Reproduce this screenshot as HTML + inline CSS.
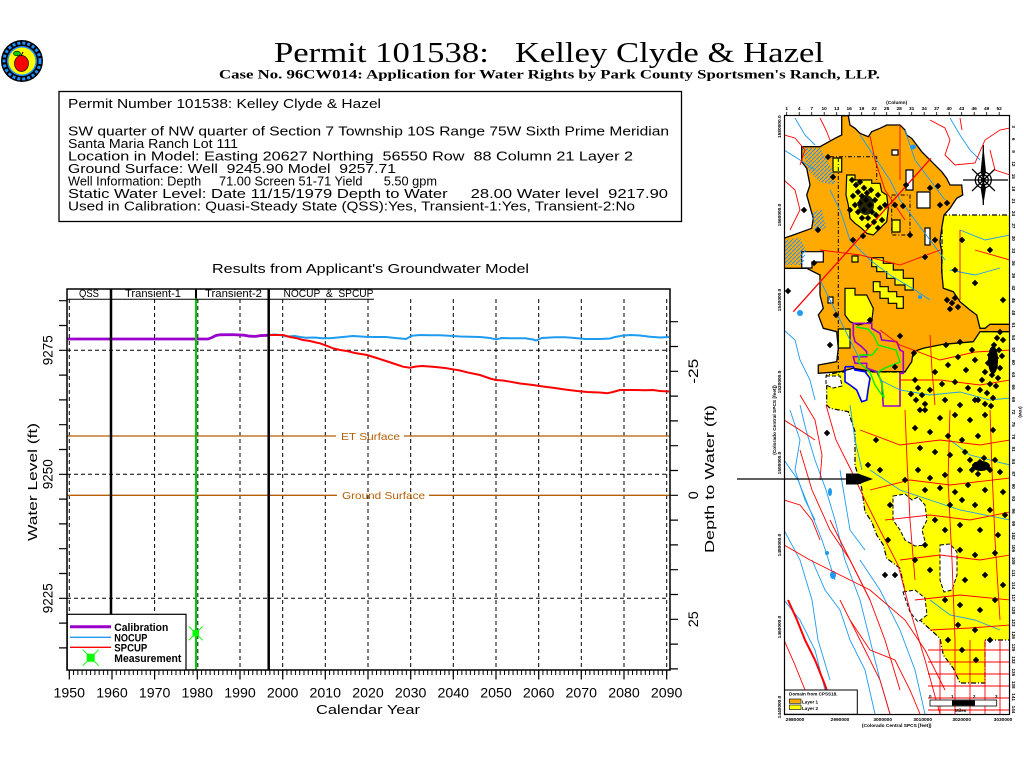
<!DOCTYPE html>
<html><head><meta charset="utf-8"><style>
html,body{margin:0;padding:0;background:#fff;}
svg{display:block;}
text{font-family:"Liberation Sans",sans-serif;white-space:pre;}
.serif{font-family:"Liberation Serif",serif;}
</style></head><body>
<svg width="1024" height="768" viewBox="0 0 1024 768" xmlns="http://www.w3.org/2000/svg" xml:space="preserve">
<defs>
<pattern id="minor" x="68.8" y="0" width="4.2667" height="10" patternUnits="userSpaceOnUse"><rect x="0" y="0" width="1" height="10" fill="#000"/></pattern>
<pattern id="hatch" x="0" y="0" width="4" height="4" patternUnits="userSpaceOnUse"><path d="M0 4L4 0" stroke="#1e90ff" stroke-width="1"/></pattern>
<clipPath id="mapclip"><rect x="784.5" y="115.5" width="225" height="599"/></clipPath>
</defs>
<rect width="1024" height="768" fill="#fff"/>

<!-- logo -->
<circle cx="22" cy="61" r="21" fill="#000"/>
<circle cx="22" cy="61" r="18" fill="none" stroke="#1e90ff" stroke-width="3" stroke-dasharray="3,2"/>
<circle cx="22" cy="61" r="15" fill="#1e90ff"/>
<circle cx="22" cy="61" r="13.5" fill="#ffff00"/>
<ellipse cx="21.5" cy="63.5" rx="7" ry="8" fill="#ff0000" stroke="#000" stroke-width="0.7"/>
<ellipse cx="17" cy="53.5" rx="3.5" ry="2.3" fill="#00cc00" stroke="#000" stroke-width="0.6"/>
<path d="M21 56L23 52" stroke="#000" stroke-width="1"/>

<!-- titles -->
<text class="serif" x="274" y="62" font-size="28" textLength="550" lengthAdjust="spacingAndGlyphs">Permit 101538:   Kelley Clyde &amp; Hazel</text>
<text class="serif" x="219" y="78.5" font-size="13" font-weight="bold" textLength="661" lengthAdjust="spacingAndGlyphs">Case No. 96CW014: Application for Water Rights by Park County Sportsmen's Ranch, LLP.</text>

<!-- info box -->
<rect x="59" y="91.5" width="622.5" height="130" fill="none" stroke="#000" stroke-width="1.3"/>
<g font-size="12.5">
<text x="68" y="108" textLength="313" lengthAdjust="spacingAndGlyphs">Permit Number 101538: Kelley Clyde &amp; Hazel</text>
<text x="68" y="135.5" textLength="601" lengthAdjust="spacingAndGlyphs">SW quarter of NW quarter of Section 7 Township 10S Range 75W Sixth Prime Meridian</text>
<text x="68" y="148" textLength="170" lengthAdjust="spacingAndGlyphs">Santa Maria Ranch Lot 111</text>
<text x="68" y="160.5" textLength="565" lengthAdjust="spacingAndGlyphs">Location in Model: Easting 20627 Northing  56550 Row  88 Column 21 Layer 2</text>
<text x="68" y="173" textLength="328" lengthAdjust="spacingAndGlyphs">Ground Surface: Well  9245.90 Model  9257.71</text>
<text x="68" y="185.5" textLength="369" lengthAdjust="spacingAndGlyphs">Well Information: Depth     71.00 Screen 51-71 Yield      5.50 gpm</text>
<text x="68" y="198" textLength="600" lengthAdjust="spacingAndGlyphs">Static Water Level: Date 11/15/1979 Depth to Water     28.00 Water level  9217.90</text>
<text x="68" y="210.5" textLength="567" lengthAdjust="spacingAndGlyphs">Used in Calibration: Quasi-Steady State (QSS):Yes, Transient-1:Yes, Transient-2:No</text>
</g>

<!-- chart title -->
<text x="212" y="273" font-size="12.5" textLength="317" lengthAdjust="spacingAndGlyphs">Results from Applicant's Groundwater Model</text>

<!-- grid -->
<g stroke="#000" stroke-width="1" stroke-dasharray="4,3" fill="none">
<path d="M69.3 299V670M154.6 299V670M197.8 299V670M240 299V670M282.7 299V670M325.3 299V670M368 299V670M410.7 299V670M453.3 299V670M496 299V670M538.7 299V670M581.3 299V670M624 299V670M666.7 299V670"/>
<path d="M67 350.3H670M67 474.3H670M67 598.3H670"/>
</g>

<!-- ET / ground surface -->
<g stroke="#b45f06" stroke-width="1.3">
<path d="M67 436H336M404 436H670"/>
<path d="M67 495.3H337M429 495.3H670"/>
</g>
<text x="341" y="440" font-size="10.5" fill="#b45f06" textLength="59" lengthAdjust="spacingAndGlyphs">ET Surface</text>
<text x="342" y="499" font-size="10.5" fill="#b45f06" textLength="83" lengthAdjust="spacingAndGlyphs">Ground Surface</text>

<!-- series -->
<polyline fill="none" stroke="#9900cc" stroke-width="2.8" points="67,339 208,339 212,337.5 216,335.5 220,334.8 232,334.6 244,335.2 250,336.2 256,336.4 260,335.6 268,335.3"/>
<polyline fill="none" stroke="#1e9bef" stroke-width="2" points="268,335 275,334.5 283,335.5 287,336.5 295,336 300,337 306,337.7 315,337.5 322,338.3 330,338.3 340,337.3 353,336 365,336.7 375,337 386,337 395,338 406,339 412,335.7 420,335 430,335.3 440,335.3 453,336 460,336.5 470,336.7 480,337 490,338 496,339.3 502,338 510,338.3 525,338.3 533,339.5 536,340.5 542,338 555,337.3 565,337.3 575,338 585,339 600,339 610,338.5 615,337 622,335.7 630,335 640,335.5 650,336.7 660,337.5 669,337"/>
<polyline fill="none" stroke="#ff0000" stroke-width="2" points="268,335 283,335 290,337 297,338.3 303,340 310,341 316,342.5 320,343.3 326,345.5 333,348.3 340,350 347,351 355,353 367,355 375,357.5 386,361 395,364 403,366.7 410,367.7 416,366.5 422,366 433,366.7 445,368 453,369.3 460,370.5 467,372.3 480,375 490,378.5 496,380 503,380.5 510,381.7 520,383.5 533,385 543,386.5 553,387.7 565,389.5 577,391 587,392 593,392.3 600,392.5 607,393.3 613,392 620,390 633,390 645,390.3 653,390 660,391 669,391.5"/>

<!-- period lines -->
<path d="M111 289V670M268.7 289V670" stroke="#000" stroke-width="2.5"/>
<path d="M196 298V670" stroke="#00cc00" stroke-width="2"/>
<path d="M196 289V298" stroke="#000" stroke-width="2"/>

<!-- measurement -->
<g stroke="#00ff00" stroke-width="1"><path d="M188.7 626.3L202.7 640.3M202.7 626.3L188.7 640.3"/></g>
<rect x="192.5" y="630" width="6.5" height="6.5" fill="#00ff00"/>

<!-- frame -->
<rect x="67" y="289" width="603" height="381" fill="none" stroke="#000" stroke-width="1.5"/>
<path d="M67 299.3H374" stroke="#000" stroke-width="1"/>
<g font-size="11">
<text x="79" y="297" textLength="20" lengthAdjust="spacingAndGlyphs">QSS</text>
<text x="125" y="297" textLength="56" lengthAdjust="spacingAndGlyphs">Transient-1</text>
<text x="205" y="297" textLength="57" lengthAdjust="spacingAndGlyphs">Transient-2</text>
<text x="283.5" y="297" textLength="90" lengthAdjust="spacingAndGlyphs">NOCUP  &amp;  SPCUP</text>
</g>

<!-- ticks -->
<path d="M59 300.7H67M59 325.5H67M59 350.3H67M59 375.1H67M59 399.9H67M59 424.7H67M59 449.5H67M59 474.3H67M59 499.1H67M59 523.9H67M59 548.7H67M59 573.5H67M59 598.3H67M59 623.1H67M59 647.9H67" stroke="#000" stroke-width="1.2"/>
<path d="M670 321.7H678M670 346.5H678M670 371.3H678M670 396.1H678M670 420.9H678M670 445.7H678M670 470.5H678M670 495.3H678M670 520.1H678M670 544.9H678M670 569.7H678M670 594.5H678M670 619.3H678M670 644.1H678M670 668.9H678" stroke="#000" stroke-width="1.2"/>
<rect x="68.8" y="670" width="599" height="5" fill="url(#minor)"/>
<path d="M69.3 670V679.5M112 670V679.5M154.6 670V679.5M197.3 670V679.5M240 670V679.5M282.7 670V679.5M325.3 670V679.5M368 670V679.5M410.7 670V679.5M453.3 670V679.5M496 670V679.5M538.7 670V679.5M581.3 670V679.5M624 670V679.5M666.7 670V679.5" stroke="#000" stroke-width="1.2"/>

<!-- x labels -->
<g font-size="14" text-anchor="middle">
<text x="69.3" y="697.5" textLength="31.5" lengthAdjust="spacingAndGlyphs">1950</text>
<text x="112" y="697.5" textLength="31.5" lengthAdjust="spacingAndGlyphs">1960</text>
<text x="154.6" y="697.5" textLength="31.5" lengthAdjust="spacingAndGlyphs">1970</text>
<text x="197.3" y="697.5" textLength="31.5" lengthAdjust="spacingAndGlyphs">1980</text>
<text x="240" y="697.5" textLength="31.5" lengthAdjust="spacingAndGlyphs">1990</text>
<text x="282.7" y="697.5" textLength="31.5" lengthAdjust="spacingAndGlyphs">2000</text>
<text x="325.3" y="697.5" textLength="31.5" lengthAdjust="spacingAndGlyphs">2010</text>
<text x="368" y="697.5" textLength="31.5" lengthAdjust="spacingAndGlyphs">2020</text>
<text x="410.7" y="697.5" textLength="31.5" lengthAdjust="spacingAndGlyphs">2030</text>
<text x="453.3" y="697.5" textLength="31.5" lengthAdjust="spacingAndGlyphs">2040</text>
<text x="496" y="697.5" textLength="31.5" lengthAdjust="spacingAndGlyphs">2050</text>
<text x="538.7" y="697.5" textLength="31.5" lengthAdjust="spacingAndGlyphs">2060</text>
<text x="581.3" y="697.5" textLength="31.5" lengthAdjust="spacingAndGlyphs">2070</text>
<text x="624" y="697.5" textLength="31.5" lengthAdjust="spacingAndGlyphs">2080</text>
<text x="666.7" y="697.5" textLength="31.5" lengthAdjust="spacingAndGlyphs">2090</text>
<text x="368" y="714" font-size="13" textLength="104" lengthAdjust="spacingAndGlyphs">Calendar Year</text>
</g>

<!-- y labels -->
<g font-size="14" text-anchor="middle">
<text transform="translate(52.5,350.3) rotate(-90)" textLength="30" lengthAdjust="spacingAndGlyphs">9275</text>
<text transform="translate(52.5,474.3) rotate(-90)" textLength="30" lengthAdjust="spacingAndGlyphs">9250</text>
<text transform="translate(52.5,598.3) rotate(-90)" textLength="30" lengthAdjust="spacingAndGlyphs">9225</text>
<text transform="translate(37,482) rotate(-90)" font-size="13" textLength="118" lengthAdjust="spacingAndGlyphs">Water Level (ft)</text>
<text transform="translate(698,371.3) rotate(-90)" textLength="25" lengthAdjust="spacingAndGlyphs">-25</text>
<text transform="translate(698,495.3) rotate(-90)" textLength="8" lengthAdjust="spacingAndGlyphs">0</text>
<text transform="translate(698,619.3) rotate(-90)" textLength="16" lengthAdjust="spacingAndGlyphs">25</text>
<text transform="translate(714,479) rotate(-90)" font-size="13" textLength="148" lengthAdjust="spacingAndGlyphs">Depth to Water (ft)</text>
</g>

<!-- legend -->
<rect x="67.3" y="614.3" width="118.7" height="55.7" fill="#fff" stroke="#000" stroke-width="1.2"/>
<path d="M70 626.7H111" stroke="#9900cc" stroke-width="3"/>
<path d="M70 637.3H111" stroke="#1e9bef" stroke-width="1.3"/>
<path d="M70 647.3H111" stroke="#ff0000" stroke-width="1.3"/>
<g stroke="#00ff00" stroke-width="1"><path d="M82.7 649.7L98.7 665.7M98.7 649.7L82.7 665.7"/></g>
<rect x="86.7" y="653.7" width="8" height="8" fill="#00ff00"/>
<g font-size="11" font-weight="bold">
<text x="114.3" y="631" textLength="54" lengthAdjust="spacingAndGlyphs">Calibration</text>
<text x="114.3" y="641.5" textLength="33" lengthAdjust="spacingAndGlyphs">NOCUP</text>
<text x="114.3" y="651.5" textLength="33" lengthAdjust="spacingAndGlyphs">SPCUP</text>
<text x="114.3" y="662" textLength="67" lengthAdjust="spacingAndGlyphs">Measurement</text>
</g>

<!-- ================= MAP ================= -->
<g clip-path="url(#mapclip)">
<rect x="784.5" y="115.5" width="225" height="599" fill="#fff"/>
<!-- yellow -->
<polygon fill="#ffff00" stroke="#000" stroke-width="1.2" stroke-dasharray="5,2,1,2" points="942,215 1010,215 1010,640 985,640 985,683 960,683 953.3,668.3 943.3,655 940,638.3 921.7,621.7 911.7,611.7 910,598.3 905,591.7 900,568.3 886.7,558.3 883.3,545 876.7,535 871.7,521.7 865,511.7 861.7,488.3 855,465 855,431.7 848.3,411.7 830,408.3 826.7,405 826.7,375 840,372 905,372 942,300"/>
<!-- white holes in yellow -->
<g fill="#fff" stroke="#000" stroke-width="1" stroke-dasharray="4,2">
<polygon points="893,496 905,494 912,500 918,497 925,505 927,520 922,530 926,545 915,546 905,540 900,530 893,520"/>
<polygon points="940,545 950,544 957,552 957,575 952,590 944,592 940,580"/>
<polygon points="903,592 915,590 925,598 927,615 918,622 910,612"/>
<polygon points="845,366.7 853.3,366.7 855,370 865,371.7 870,378.3 868.3,388.3 866.7,400 861.7,401.7 856.7,390 850,385 845,381.7"/>
<polygon points="826,376 840,376 842,386 833,388 826,385"/>
</g>
<!-- orange -->
<polygon fill="#ffaa00" stroke="#000" stroke-width="1.3" points="841.7,115.7 848.3,115.7 850,125 855,128.3 860,133.3 868.3,136.7 871.7,131.7 880,128.3 886.7,125 900,125 905,130 906.7,135 911.7,138.3 916.7,145 921.7,151.7 926.7,156.7 931.7,161.7 936.7,166.7 941.7,171.7 946.7,178.3 950,185 961.7,185 962.7,195 956.7,198.3 950,208.3 944,215 941.7,228.3 940,241.7 941.7,251.7 941.7,271.7 943.3,288.3 953.3,291.7 960,301.7 970,310 976.7,315 980,328.3 985,328.3 990,324.3 1010,324.3 1010,331.7 980,331.7 973.3,341.7 943.3,344.3 923.3,348.3 913.3,351.7 911.7,361.7 905,371.7 896.7,371.7 873.3,371.7 853.3,368.3 840,371.7 818.3,373.3 818.3,365 836.7,361.7 838.3,348.3 836.7,331.7 823.3,328.3 818.3,315 823.3,308.3 820,295 820,275 806.7,268.3 784,268.3 784,238.3 793.3,235 811.7,228.3 813.3,218.3 806.7,195 810,185 806.7,168.3 801.7,161.7 801.7,146.7 820,146.7 835,138.3 841.7,135"/>
<!-- yellow inside orange -->
<g fill="#ffff00" stroke="#000" stroke-width="1.2">
<polygon points="846.7,175 855,175 855,180 871.7,180 871.7,183.3 880,183.3 881.7,191.7 886.7,195 888.3,208.3 886.7,221.7 880,228.3 873.3,235 866.7,233.3 861.7,228.3 855,223.3 850,218.3 848.3,205 846,195"/>
<polygon points="871.7,257.7 883.3,257.7 883.3,263.3 893.3,263.3 893.3,270 903.3,270 903.3,278.3 913.3,278.3 913.3,290 905,290 905,285 895,285 895,278.3 886.7,278.3 886.7,271.7 876.7,271.7 876.7,266.7 871.7,266.7"/>
<polygon points="873.3,281.7 880,281.7 880,286.7 888.3,286.7 888.3,291.7 896.7,291.7 896.7,296.7 903.3,296.7 903.3,308.3 896.7,308.3 896.7,303.3 888.3,303.3 888.3,298.3 880,298.3 880,291.7 873.3,291.7"/>
<polygon points="845,288.3 855,288.3 855,295 866.7,295 873.3,308.3 871.7,321.7 858.3,325 850,321.7 845,315"/>
<polygon points="838.3,329 850,329 850,348 838.3,348"/>
<polygon points="833,158 841.7,158 841.7,172 833,172"/>
<polygon points="892,220 900,220 900,232 892,232"/>
<polygon points="852,256 858,256 858,262 852,262"/>
</g>
<!-- white holes in orange -->
<g fill="#fff" stroke="#000" stroke-width="1.2">
<polygon points="801.7,251.7 823.3,251.7 823.3,262 812,262 812,268 801.7,268"/>
<polygon points="906,170 913,170 913,190 906,190"/>
<polygon points="917,192 930,192 930,208 917,208"/>
<polygon points="925,228 930,228 930,245 925,245"/>
<polygon points="892,150 898,150 898,155 892,155"/>
<polygon points="828,297 833,297 833,303 828,303"/>
</g>
<!-- hatch areas -->
<g fill="url(#hatch)">
<polygon points="802,148 820,148 835,175 835,185 820,182 808,170"/>
<polygon points="784,240 800,238 806,250 803,265 784,265"/>
<polygon points="812,212 822,210 826,228 815,232"/>
</g>
<!-- dashed boundaries in orange -->
<g fill="none" stroke="#000" stroke-width="1" stroke-dasharray="4,2,1,2">
<path d="M838.3 158V375M830 156.7H876.7V180"/>
<rect x="891.7" y="195" width="18.3" height="40"/>
</g>
<!-- purple / green / blue outlines -->
<polygon fill="none" stroke="#9900cc" stroke-width="1.6" points="853.3,323.3 871.7,323.3 871.7,328.3 880,333.3 881.7,340 896.7,341.7 900,350 903.3,351.7 903.3,373.3 900,373.3 900,406 883.3,406 881.7,381.7 876.7,371.7 866.7,368.3 866.7,363.3 855,363.3 853.3,356.7 866.7,356.7 866.7,351.7 861.7,346.7 855,341.7 853.3,335"/>
<polyline fill="none" stroke="#00ee00" stroke-width="1.4" points="856,327 868,329 874,336 878,345 896,350 900,362 885,368 878,372 882,385 884,398 875,385 870,372 858,362 860,355 872,355 878,348"/>
<polyline fill="none" stroke="#0000ff" stroke-width="1.6" points="845,366.7 853.3,366.7 855,370 865,371.7 870,378.3 868.3,388.3 866.7,400 861.7,401.7 856.7,390 850,385 845,381.7 845,366.7"/>
<!-- compass -->
<g stroke="#000" fill="none" stroke-width="1.3">
<circle cx="983.3" cy="180" r="8"/>
<circle cx="983.3" cy="180" r="5"/>
<path d="M983.3 145V205M963 180H1008M972 169L995 191M995 169L972 191"/>
</g>
<polygon points="983.3,145 986,172 983.3,180 980.6,172" fill="#000"/>
<polygon points="983.3,205 986,188 983.3,180 980.6,188" fill="#000"/>
<circle cx="983.3" cy="180" r="2.5" fill="#000"/>
<!-- blue streams -->
<g fill="none" stroke="#1e9bef" stroke-width="0.9">
<polyline points="800,405 806,430 815,460 826,490 835,520 845,560 860,600 870,640 880,680 890,714"/>
<polyline points="784,460 798,480 810,510 822,540 835,580"/>
<polyline points="850,405 855,440 862,470"/>
<polyline points="784,530 800,560 812,600 818,640 830,680"/>
<polyline points="860,560 880,590 900,630 915,670 925,714"/>
<polyline points="870,470 900,490 930,500 960,510 1010,520"/>
<polyline points="950,440 970,455 1010,465"/>
<polyline points="860,135 870,150 880,165 890,180 900,200 915,220 930,240 945,260"/>
<polyline points="830,190 840,210 850,240 870,260 890,275 915,290 930,300"/>
<polyline points="820,280 830,300 840,320 850,340 860,360"/>
<polyline points="905,130 915,160 930,180 945,200"/>
<polyline points="784,150 800,160 815,170"/>
<polyline points="795,118 805,135 815,145"/>
<polyline points="950,118 960,135 970,150 980,160"/>
<polyline points="960,230 985,240 1010,235"/>
<polyline points="950,270 975,275 1000,268"/>
<polyline points="880,380 900,390 930,395 960,392 990,400 1010,398"/>
<polyline points="784,330 795,340 800,360 810,380 815,400"/>
<polyline points="930,600 950,615 975,620 1000,630"/>
<polyline points="790,410 800,440 795,470 805,500 815,520"/>
<polyline points="812,560 825,590 840,610 850,640 865,670 875,714"/>
<polyline points="784,600 800,620 815,650 825,690"/>
<polyline points="840,470 845,500 850,530 865,550"/>
</g>
<g fill="#1e9bef">
<ellipse cx="913" cy="147" rx="3" ry="2.5"/>
<ellipse cx="800" cy="313" rx="3" ry="3"/>
<ellipse cx="830" cy="492" rx="2" ry="4"/>
<ellipse cx="833" cy="575" rx="3" ry="4"/>
<ellipse cx="827" cy="553" rx="2" ry="2"/>
<ellipse cx="920" cy="297" rx="2" ry="2"/>
</g>
<!-- red roads -->
<g fill="none" stroke="#ff0000" stroke-width="0.9">
<polyline stroke-width="1.3" points="793.3,311.7 931,158.3"/>
<polyline points="826,405 836,440 851,470 865,500 880,530 898,565 910,610 925,660 940,714"/>
<polyline points="784,545 810,560 840,575 870,590 905,620 925,650 945,690"/>
<polyline stroke-width="2" points="788,600 797,620 805,640 815,660 825,685 835,714"/>
<polyline points="800,450 812,490 830,530 850,560 870,600 885,640 900,690"/>
<polyline points="860,430 900,445 940,440 980,445 1010,440"/>
<polyline points="870,490 910,480 950,485 1010,478"/>
<polyline points="885,520 930,515 970,520 1010,512"/>
<polyline points="900,560 940,555 980,560 1010,555"/>
<polyline points="915,600 960,595 1010,600"/>
<polyline points="930,630 970,628 1010,625"/>
<polyline points="905,410 907,460 910,520 915,580"/>
<polyline points="950,410 948,480 952,560 955,640"/>
<polyline points="990,410 992,470 995,540 1000,620"/>
<polyline points="880,330 900,345 940,360 975,352 1010,350"/>
<polyline points="900,380 940,380 980,385 1010,380"/>
<polyline points="930,335 932,370 935,405"/>
<polyline points="870,136 875,160 885,190 905,220"/>
<polyline points="820,250 860,255 900,265 940,250"/>
<polyline points="900,125 900,180"/>
<polyline points="784,135 795,138 805,150 800,165"/>
<polyline points="784,180 795,190 800,210 790,230"/>
<polyline points="820,118 826,130 830,140"/>
<polyline points="930,120 945,128 950,140 945,155 955,165 975,163 985,140 1000,130 1010,128"/>
<polyline points="960,118 962,130"/>
<polyline points="990,150 995,170 1010,175"/>
<polyline points="784,640 795,665 805,690"/>
<polyline points="840,600 860,640 880,680 890,714"/>
<polyline points="830,520 850,560 870,600"/>
<polyline points="784,420 800,430 815,440"/>
<polyline points="960,230 960,300"/>
<polyline points="975,250 1010,260"/>
<polyline points="800,395 815,420 822,455 820,480"/>
<polyline points="784,500 800,505 812,520 820,540"/>
<polyline points="850,620 870,650 895,660 910,690 920,714"/>
<path d="M928 650H1010M928 662H1010M928 674H1010M928 686H1010M928 698H1010M928 710H1010M940 640V714M955 640V714M970 640V714M985 640V714M1000 640V714"/>
</g>
<!-- wells -->
<path fill="#000" stroke="#000" stroke-width="1" d="M852 180m0-2.5l2.5 2.5-2.5 2.5-2.5-2.5zM856 185m0-2.5l2.5 2.5-2.5 2.5-2.5-2.5zM860 182m0-2.5l2.5 2.5-2.5 2.5-2.5-2.5zM864 188m0-2.5l2.5 2.5-2.5 2.5-2.5-2.5zM858 192m0-2.5l2.5 2.5-2.5 2.5-2.5-2.5zM853 196m0-2.5l2.5 2.5-2.5 2.5-2.5-2.5zM862 196m0-2.5l2.5 2.5-2.5 2.5-2.5-2.5zM867 193m0-2.5l2.5 2.5-2.5 2.5-2.5-2.5zM871 190m0-2.5l2.5 2.5-2.5 2.5-2.5-2.5zM866 200m0-2.5l2.5 2.5-2.5 2.5-2.5-2.5zM860 203m0-2.5l2.5 2.5-2.5 2.5-2.5-2.5zM855 205m0-2.5l2.5 2.5-2.5 2.5-2.5-2.5zM870 205m0-2.5l2.5 2.5-2.5 2.5-2.5-2.5zM875 200m0-2.5l2.5 2.5-2.5 2.5-2.5-2.5zM878 195m0-2.5l2.5 2.5-2.5 2.5-2.5-2.5zM864 210m0-2.5l2.5 2.5-2.5 2.5-2.5-2.5zM858 212m0-2.5l2.5 2.5-2.5 2.5-2.5-2.5zM872 212m0-2.5l2.5 2.5-2.5 2.5-2.5-2.5zM868 218m0-2.5l2.5 2.5-2.5 2.5-2.5-2.5zM876 215m0-2.5l2.5 2.5-2.5 2.5-2.5-2.5zM880 208m0-2.5l2.5 2.5-2.5 2.5-2.5-2.5zM862 218m0-2.5l2.5 2.5-2.5 2.5-2.5-2.5zM874 222m0-2.5l2.5 2.5-2.5 2.5-2.5-2.5zM882 220m0-2.5l2.5 2.5-2.5 2.5-2.5-2.5zM885 205m0-2.5l2.5 2.5-2.5 2.5-2.5-2.5zM850 210m0-2.5l2.5 2.5-2.5 2.5-2.5-2.5zM868 226m0-2.5l2.5 2.5-2.5 2.5-2.5-2.5zM878 228m0-2.5l2.5 2.5-2.5 2.5-2.5-2.5zM828 157m0-2.5l2.5 2.5-2.5 2.5-2.5-2.5zM833 177m0-2.5l2.5 2.5-2.5 2.5-2.5-2.5zM818 230m0-2.5l2.5 2.5-2.5 2.5-2.5-2.5zM804 210m0-2.5l2.5 2.5-2.5 2.5-2.5-2.5zM853 240m0-2.5l2.5 2.5-2.5 2.5-2.5-2.5zM863 236m0-2.5l2.5 2.5-2.5 2.5-2.5-2.5zM895 205m0-2.5l2.5 2.5-2.5 2.5-2.5-2.5zM903 206m0-2.5l2.5 2.5-2.5 2.5-2.5-2.5zM906 185m0-2.5l2.5 2.5-2.5 2.5-2.5-2.5zM930 188m0-2.5l2.5 2.5-2.5 2.5-2.5-2.5zM938 186m0-2.5l2.5 2.5-2.5 2.5-2.5-2.5zM940 205m0-2.5l2.5 2.5-2.5 2.5-2.5-2.5zM947 203m0-2.5l2.5 2.5-2.5 2.5-2.5-2.5zM935 240m0-2.5l2.5 2.5-2.5 2.5-2.5-2.5zM910 235m0-2.5l2.5 2.5-2.5 2.5-2.5-2.5zM925 257m0-2.5l2.5 2.5-2.5 2.5-2.5-2.5zM870 320m0-2.5l2.5 2.5-2.5 2.5-2.5-2.5zM900 336m0-2.5l2.5 2.5-2.5 2.5-2.5-2.5zM914 353m0-2.5l2.5 2.5-2.5 2.5-2.5-2.5zM895 367m0-2.5l2.5 2.5-2.5 2.5-2.5-2.5zM836 315m0-2.5l2.5 2.5-2.5 2.5-2.5-2.5zM814 263m0-2.5l2.5 2.5-2.5 2.5-2.5-2.5zM788 291m0-2.5l2.5 2.5-2.5 2.5-2.5-2.5zM830 345m0-2.5l2.5 2.5-2.5 2.5-2.5-2.5zM1000 332m0-2.5l2.5 2.5-2.5 2.5-2.5-2.5zM997 338m0-2.5l2.5 2.5-2.5 2.5-2.5-2.5zM1003 340m0-2.5l2.5 2.5-2.5 2.5-2.5-2.5zM994 345m0-2.5l2.5 2.5-2.5 2.5-2.5-2.5zM999 350m0-2.5l2.5 2.5-2.5 2.5-2.5-2.5zM990 355m0-2.5l2.5 2.5-2.5 2.5-2.5-2.5zM996 358m0-2.5l2.5 2.5-2.5 2.5-2.5-2.5zM1002 356m0-2.5l2.5 2.5-2.5 2.5-2.5-2.5zM988 363m0-2.5l2.5 2.5-2.5 2.5-2.5-2.5zM995 366m0-2.5l2.5 2.5-2.5 2.5-2.5-2.5zM1000 368m0-2.5l2.5 2.5-2.5 2.5-2.5-2.5zM985 372m0-2.5l2.5 2.5-2.5 2.5-2.5-2.5zM992 375m0-2.5l2.5 2.5-2.5 2.5-2.5-2.5zM998 378m0-2.5l2.5 2.5-2.5 2.5-2.5-2.5zM982 380m0-2.5l2.5 2.5-2.5 2.5-2.5-2.5zM990 384m0-2.5l2.5 2.5-2.5 2.5-2.5-2.5zM996 386m0-2.5l2.5 2.5-2.5 2.5-2.5-2.5zM980 390m0-2.5l2.5 2.5-2.5 2.5-2.5-2.5zM987 393m0-2.5l2.5 2.5-2.5 2.5-2.5-2.5zM993 398m0-2.5l2.5 2.5-2.5 2.5-2.5-2.5zM978 400m0-2.5l2.5 2.5-2.5 2.5-2.5-2.5zM985 404m0-2.5l2.5 2.5-2.5 2.5-2.5-2.5zM991 406m0-2.5l2.5 2.5-2.5 2.5-2.5-2.5zM962 240m0-2.5l2.5 2.5-2.5 2.5-2.5-2.5zM990 250m0-2.5l2.5 2.5-2.5 2.5-2.5-2.5zM955 270m0-2.5l2.5 2.5-2.5 2.5-2.5-2.5zM975 283m0-2.5l2.5 2.5-2.5 2.5-2.5-2.5zM1003 300m0-2.5l2.5 2.5-2.5 2.5-2.5-2.5zM947 300m0-2.5l2.5 2.5-2.5 2.5-2.5-2.5zM952 303m0-2.5l2.5 2.5-2.5 2.5-2.5-2.5zM955 298m0-2.5l2.5 2.5-2.5 2.5-2.5-2.5zM958 307m0-2.5l2.5 2.5-2.5 2.5-2.5-2.5zM950 309m0-2.5l2.5 2.5-2.5 2.5-2.5-2.5zM946 345m0-2.5l2.5 2.5-2.5 2.5-2.5-2.5zM960 342m0-2.5l2.5 2.5-2.5 2.5-2.5-2.5zM972 350m0-2.5l2.5 2.5-2.5 2.5-2.5-2.5zM958 357m0-2.5l2.5 2.5-2.5 2.5-2.5-2.5zM948 365m0-2.5l2.5 2.5-2.5 2.5-2.5-2.5zM935 372m0-2.5l2.5 2.5-2.5 2.5-2.5-2.5zM966 370m0-2.5l2.5 2.5-2.5 2.5-2.5-2.5zM975 360m0-2.5l2.5 2.5-2.5 2.5-2.5-2.5zM942 384m0-2.5l2.5 2.5-2.5 2.5-2.5-2.5zM955 382m0-2.5l2.5 2.5-2.5 2.5-2.5-2.5zM968 388m0-2.5l2.5 2.5-2.5 2.5-2.5-2.5zM930 390m0-2.5l2.5 2.5-2.5 2.5-2.5-2.5zM945 400m0-2.5l2.5 2.5-2.5 2.5-2.5-2.5zM960 405m0-2.5l2.5 2.5-2.5 2.5-2.5-2.5zM975 400m0-2.5l2.5 2.5-2.5 2.5-2.5-2.5zM925 410m0-2.5l2.5 2.5-2.5 2.5-2.5-2.5zM940 418m0-2.5l2.5 2.5-2.5 2.5-2.5-2.5zM955 415m0-2.5l2.5 2.5-2.5 2.5-2.5-2.5zM970 420m0-2.5l2.5 2.5-2.5 2.5-2.5-2.5zM985 415m0-2.5l2.5 2.5-2.5 2.5-2.5-2.5zM915 428m0-2.5l2.5 2.5-2.5 2.5-2.5-2.5zM930 432m0-2.5l2.5 2.5-2.5 2.5-2.5-2.5zM948 436m0-2.5l2.5 2.5-2.5 2.5-2.5-2.5zM962 440m0-2.5l2.5 2.5-2.5 2.5-2.5-2.5zM978 436m0-2.5l2.5 2.5-2.5 2.5-2.5-2.5zM993 430m0-2.5l2.5 2.5-2.5 2.5-2.5-2.5zM920 448m0-2.5l2.5 2.5-2.5 2.5-2.5-2.5zM935 452m0-2.5l2.5 2.5-2.5 2.5-2.5-2.5zM950 455m0-2.5l2.5 2.5-2.5 2.5-2.5-2.5zM965 452m0-2.5l2.5 2.5-2.5 2.5-2.5-2.5zM970 460m0-2.5l2.5 2.5-2.5 2.5-2.5-2.5zM975 465m0-2.5l2.5 2.5-2.5 2.5-2.5-2.5zM980 462m0-2.5l2.5 2.5-2.5 2.5-2.5-2.5zM985 467m0-2.5l2.5 2.5-2.5 2.5-2.5-2.5zM990 470m0-2.5l2.5 2.5-2.5 2.5-2.5-2.5zM972 470m0-2.5l2.5 2.5-2.5 2.5-2.5-2.5zM978 474m0-2.5l2.5 2.5-2.5 2.5-2.5-2.5zM984 458m0-2.5l2.5 2.5-2.5 2.5-2.5-2.5zM995 460m0-2.5l2.5 2.5-2.5 2.5-2.5-2.5zM1000 472m0-2.5l2.5 2.5-2.5 2.5-2.5-2.5zM960 470m0-2.5l2.5 2.5-2.5 2.5-2.5-2.5zM945 475m0-2.5l2.5 2.5-2.5 2.5-2.5-2.5zM930 478m0-2.5l2.5 2.5-2.5 2.5-2.5-2.5zM918 470m0-2.5l2.5 2.5-2.5 2.5-2.5-2.5zM905 480m0-2.5l2.5 2.5-2.5 2.5-2.5-2.5zM925 490m0-2.5l2.5 2.5-2.5 2.5-2.5-2.5zM940 488m0-2.5l2.5 2.5-2.5 2.5-2.5-2.5zM955 492m0-2.5l2.5 2.5-2.5 2.5-2.5-2.5zM968 485m0-2.5l2.5 2.5-2.5 2.5-2.5-2.5zM985 490m0-2.5l2.5 2.5-2.5 2.5-2.5-2.5zM1003 492m0-2.5l2.5 2.5-2.5 2.5-2.5-2.5zM950 505m0-2.5l2.5 2.5-2.5 2.5-2.5-2.5zM962 500m0-2.5l2.5 2.5-2.5 2.5-2.5-2.5zM975 505m0-2.5l2.5 2.5-2.5 2.5-2.5-2.5zM990 510m0-2.5l2.5 2.5-2.5 2.5-2.5-2.5zM1005 515m0-2.5l2.5 2.5-2.5 2.5-2.5-2.5zM935 520m0-2.5l2.5 2.5-2.5 2.5-2.5-2.5zM945 530m0-2.5l2.5 2.5-2.5 2.5-2.5-2.5zM960 525m0-2.5l2.5 2.5-2.5 2.5-2.5-2.5zM980 530m0-2.5l2.5 2.5-2.5 2.5-2.5-2.5zM998 535m0-2.5l2.5 2.5-2.5 2.5-2.5-2.5zM925 545m0-2.5l2.5 2.5-2.5 2.5-2.5-2.5zM960 550m0-2.5l2.5 2.5-2.5 2.5-2.5-2.5zM975 555m0-2.5l2.5 2.5-2.5 2.5-2.5-2.5zM995 553m0-2.5l2.5 2.5-2.5 2.5-2.5-2.5zM915 560m0-2.5l2.5 2.5-2.5 2.5-2.5-2.5zM930 570m0-2.5l2.5 2.5-2.5 2.5-2.5-2.5zM965 580m0-2.5l2.5 2.5-2.5 2.5-2.5-2.5zM985 575m0-2.5l2.5 2.5-2.5 2.5-2.5-2.5zM1003 585m0-2.5l2.5 2.5-2.5 2.5-2.5-2.5zM945 600m0-2.5l2.5 2.5-2.5 2.5-2.5-2.5zM960 605m0-2.5l2.5 2.5-2.5 2.5-2.5-2.5zM980 610m0-2.5l2.5 2.5-2.5 2.5-2.5-2.5zM995 600m0-2.5l2.5 2.5-2.5 2.5-2.5-2.5zM958 625m0-2.5l2.5 2.5-2.5 2.5-2.5-2.5zM975 630m0-2.5l2.5 2.5-2.5 2.5-2.5-2.5zM990 640m0-2.5l2.5 2.5-2.5 2.5-2.5-2.5zM948 640m0-2.5l2.5 2.5-2.5 2.5-2.5-2.5zM962 650m0-2.5l2.5 2.5-2.5 2.5-2.5-2.5zM976 660m0-2.5l2.5 2.5-2.5 2.5-2.5-2.5zM888 540m0-2.5l2.5 2.5-2.5 2.5-2.5-2.5zM895 575m0-2.5l2.5 2.5-2.5 2.5-2.5-2.5zM880 470m0-2.5l2.5 2.5-2.5 2.5-2.5-2.5zM876 440m0-2.5l2.5 2.5-2.5 2.5-2.5-2.5zM868 465m0-2.5l2.5 2.5-2.5 2.5-2.5-2.5zM827 433m0-2.5l2.5 2.5-2.5 2.5-2.5-2.5zM890 505m0-2.5l2.5 2.5-2.5 2.5-2.5-2.5zM885 575m0-2.5l2.5 2.5-2.5 2.5-2.5-2.5zM915 380m0-2.5l2.5 2.5-2.5 2.5-2.5-2.5zM918 388m0-2.5l2.5 2.5-2.5 2.5-2.5-2.5zM922 395m0-2.5l2.5 2.5-2.5 2.5-2.5-2.5zM916 400m0-2.5l2.5 2.5-2.5 2.5-2.5-2.5zM925 404m0-2.5l2.5 2.5-2.5 2.5-2.5-2.5zM920 410m0-2.5l2.5 2.5-2.5 2.5-2.5-2.5zM911 394m0-2.5l2.5 2.5-2.5 2.5-2.5-2.5z"/>
<ellipse cx="981" cy="466" rx="9" ry="5" fill="#000"/>
<ellipse cx="993" cy="360" rx="5" ry="14" fill="#000"/>
<ellipse cx="866" cy="205" rx="8" ry="10" fill="#000" opacity="0.85"/>
<!-- map legend -->
<rect x="784.5" y="690" width="72.8" height="24.3" fill="#fff" stroke="#000" stroke-width="1"/>
<rect x="789.3" y="699" width="11.7" height="4.3" fill="#ffaa00" stroke="#000" stroke-width="0.6"/>
<rect x="789.3" y="705" width="11.7" height="4.5" fill="#ffff00" stroke="#000" stroke-width="0.6"/>
<g font-size="4.6" font-weight="bold">
<text x="789" y="695.5">Domain from CPSS18.</text>
<text x="802" y="703.5">Layer 1</text>
<text x="802" y="709.8">Layer 2</text>
</g>
<!-- scale bar -->
<rect x="930" y="700" width="66.7" height="6" fill="#fff" stroke="#000" stroke-width="0.8"/>
<rect x="952" y="700.5" width="23" height="5" fill="#000"/>
<g font-size="4.5" font-weight="bold"><text x="929" y="698">0</text><text x="951" y="698">1</text><text x="973" y="698">2</text><text x="995" y="698">3</text><text x="955" y="712">Miles</text></g>
</g>
<rect x="784.5" y="115.5" width="225" height="599" fill="none" stroke="#000" stroke-width="1.2"/>

<!-- map axes -->
<g font-size="4.8" font-weight="bold" text-anchor="middle">
<text x="896.7" y="104">(Column)</text>
<text x="786.7" y="110">1</text><text x="799.2" y="110">4</text><text x="811.7" y="110">7</text><text x="824.2" y="110">10</text><text x="836.7" y="110">13</text><text x="849.2" y="110">16</text><text x="861.7" y="110">19</text><text x="874.2" y="110">22</text><text x="886.7" y="110">25</text><text x="899.2" y="110">28</text><text x="911.7" y="110">31</text><text x="924.2" y="110">34</text><text x="936.7" y="110">37</text><text x="949.2" y="110">40</text><text x="961.7" y="110">43</text><text x="974.2" y="110">46</text><text x="986.7" y="110">49</text><text x="999.2" y="110">52</text>
</g>
<path d="M786.7 112V115.5M799.2 112V115.5M811.7 112V115.5M824.2 112V115.5M836.7 112V115.5M849.2 112V115.5M861.7 112V115.5M874.2 112V115.5M886.7 112V115.5M899.2 112V115.5M911.7 112V115.5M924.2 112V115.5M936.7 112V115.5M949.2 112V115.5M961.7 112V115.5M974.2 112V115.5M986.7 112V115.5M999.2 112V115.5" stroke="#000" stroke-width="0.8"/>
<g font-size="4.6" font-weight="bold" text-anchor="middle">
<text transform="translate(1012,126.7) rotate(90)">3</text><text transform="translate(1012,139.1) rotate(90)">6</text><text transform="translate(1012,151.5) rotate(90)">9</text><text transform="translate(1012,163.9) rotate(90)">12</text><text transform="translate(1012,176.3) rotate(90)">15</text><text transform="translate(1012,188.7) rotate(90)">18</text><text transform="translate(1012,201.1) rotate(90)">21</text><text transform="translate(1012,213.5) rotate(90)">24</text><text transform="translate(1012,225.9) rotate(90)">27</text><text transform="translate(1012,238.3) rotate(90)">30</text><text transform="translate(1012,250.7) rotate(90)">33</text><text transform="translate(1012,263.1) rotate(90)">36</text><text transform="translate(1012,275.5) rotate(90)">39</text><text transform="translate(1012,287.9) rotate(90)">42</text><text transform="translate(1012,300.3) rotate(90)">45</text><text transform="translate(1012,312.7) rotate(90)">48</text><text transform="translate(1012,325.1) rotate(90)">51</text><text transform="translate(1012,337.5) rotate(90)">54</text><text transform="translate(1012,349.9) rotate(90)">57</text><text transform="translate(1012,362.3) rotate(90)">60</text><text transform="translate(1012,374.7) rotate(90)">63</text><text transform="translate(1012,387.1) rotate(90)">66</text><text transform="translate(1012,399.5) rotate(90)">69</text><text transform="translate(1012,411.9) rotate(90)">72</text><text transform="translate(1012,424.3) rotate(90)">75</text><text transform="translate(1012,436.7) rotate(90)">78</text><text transform="translate(1012,449.1) rotate(90)">81</text><text transform="translate(1012,461.5) rotate(90)">84</text><text transform="translate(1012,473.9) rotate(90)">87</text><text transform="translate(1012,486.3) rotate(90)">90</text><text transform="translate(1012,498.7) rotate(90)">93</text><text transform="translate(1012,511.1) rotate(90)">96</text><text transform="translate(1012,523.5) rotate(90)">99</text><text transform="translate(1012,535.9) rotate(90)">102</text><text transform="translate(1012,548.3) rotate(90)">105</text><text transform="translate(1012,560.7) rotate(90)">108</text><text transform="translate(1012,573.1) rotate(90)">111</text><text transform="translate(1012,585.5) rotate(90)">114</text><text transform="translate(1012,597.9) rotate(90)">117</text><text transform="translate(1012,610.3) rotate(90)">120</text><text transform="translate(1012,622.7) rotate(90)">123</text><text transform="translate(1012,635.1) rotate(90)">126</text><text transform="translate(1012,647.5) rotate(90)">129</text><text transform="translate(1012,659.9) rotate(90)">132</text><text transform="translate(1012,672.3) rotate(90)">135</text><text transform="translate(1012,684.7) rotate(90)">138</text><text transform="translate(1012,697.1) rotate(90)">141</text><text transform="translate(1012,709.5) rotate(90)">144</text>
<text transform="translate(1019,412) rotate(90)">(row)</text>
</g>
<g font-size="4.8" font-weight="bold" text-anchor="middle">
<text transform="translate(781,126.7) rotate(-90)">1580000.0</text>
<text transform="translate(781,215) rotate(-90)">1560000.0</text>
<text transform="translate(781,300) rotate(-90)">1540000.0</text>
<text transform="translate(781,382) rotate(-90)">1520000.0</text>
<text transform="translate(781,463) rotate(-90)">1500000.0</text>
<text transform="translate(781,545) rotate(-90)">1480000.0</text>
<text transform="translate(781,627) rotate(-90)">1460000.0</text>
<text transform="translate(781,707) rotate(-90)">1440000.0</text>
<text transform="translate(776,420) rotate(-90)">(Colorado Central SPCS [feet])</text>
</g>
<g font-size="4.8" font-weight="bold" text-anchor="middle">
<text x="795" y="721">2980000</text><text x="840" y="721">2990000</text><text x="882.7" y="721">3000000</text><text x="922.7" y="721">3010000</text><text x="961.7" y="721">3020000</text><text x="1003" y="721">3030000</text>
<text x="896.7" y="727">(Colorado Central SPCS [feet])</text>
</g>

<!-- arrow -->
<path d="M737 479H847" stroke="#000" stroke-width="1.2"/>
<polygon points="846,473.5 858,473.5 873,479 858,484.5 846,484.5" fill="#000"/>
</svg>
</body></html>
